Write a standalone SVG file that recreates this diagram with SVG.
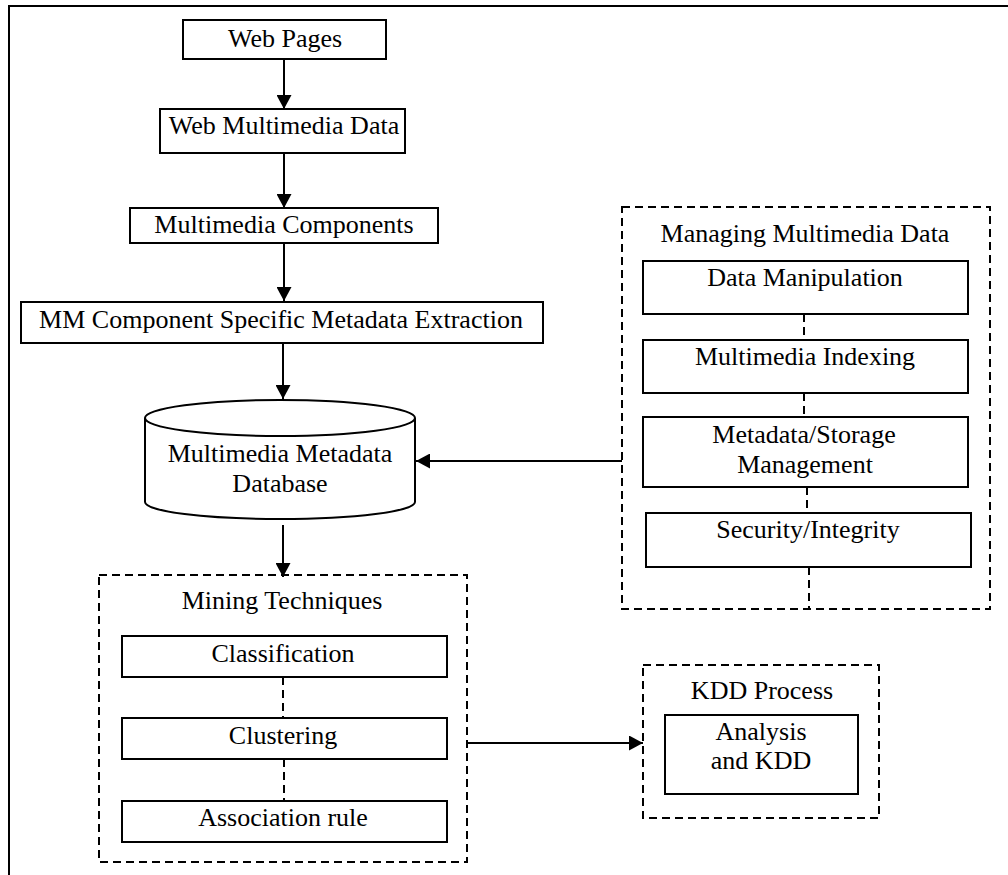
<svg xmlns="http://www.w3.org/2000/svg" width="1008" height="875" viewBox="0 0 1008 875">
<style>
.box{fill:#fff;stroke:#000;stroke-width:2}
.dbox{fill:none;stroke:#000;stroke-width:2;stroke-dasharray:8 5}
.ln{fill:none;stroke:#000;stroke-width:2}
.dl{fill:none;stroke:#000;stroke-width:2;stroke-dasharray:8 5}
text{font-family:"Liberation Serif","Times New Roman",serif;font-size:26px;fill:#000;text-anchor:middle}
</style>
<defs>
<marker id="ah" viewBox="0 0 14 15" refX="14" refY="7.5" markerWidth="14" markerHeight="15" markerUnits="userSpaceOnUse" orient="auto">
<path d="M0,0 L14,7.5 L0,15 Z" fill="#000"/>
</marker>
</defs>
<rect width="1008" height="875" fill="#fff"/>
<g id="frame">
<path class="ln" d="M9,875 V6 H1008"/>
</g>
<g id="connectors">
<line class="ln" x1="284" y1="59" x2="284" y2="109" marker-end="url(#ah)"/>
<line class="ln" x1="284" y1="153" x2="284" y2="208" marker-end="url(#ah)"/>
<line class="ln" x1="284" y1="243" x2="284" y2="301" marker-end="url(#ah)"/>
<line class="ln" x1="283" y1="343" x2="283" y2="399" marker-end="url(#ah)"/>
<line class="ln" x1="622" y1="461" x2="416" y2="461" marker-end="url(#ah)"/>
<line class="ln" x1="283" y1="525" x2="283" y2="577" marker-end="url(#ah)"/>
<line class="ln" x1="467" y1="743" x2="643" y2="743" marker-end="url(#ah)"/>
<line class="dl" x1="283" y1="677" x2="283" y2="718"/>
<line class="dl" x1="284" y1="759" x2="284" y2="801"/>
<line class="dl" x1="804" y1="314" x2="804" y2="340"/>
<line class="dl" x1="804" y1="393" x2="804" y2="417"/>
<line class="dl" x1="807" y1="487" x2="807" y2="513"/>
<line class="dl" x1="809" y1="567" x2="809" y2="609"/>
</g>
<g id="web-pages">
<rect class="box" x="183" y="20" width="203" height="39"/>
<text x="285" y="47">Web Pages</text>
</g>
<g id="web-multimedia-data">
<rect class="box" x="160" y="109" width="245" height="44"/>
<text x="284" y="134">Web Multimedia Data</text>
</g>
<g id="multimedia-components">
<rect class="box" x="130" y="208" width="308" height="35"/>
<text x="284" y="233">Multimedia Components</text>
</g>
<g id="metadata-extraction">
<rect class="box" x="21" y="302" width="522" height="41"/>
<text x="281" y="328">MM Component Specific Metadata Extraction</text>
</g>
<g id="metadata-database">
<path class="box" d="M145,418 V502 A135,17 0 0 0 415,502 V418"/>
<ellipse class="box" cx="280" cy="418" rx="135" ry="18"/>
<text x="280" y="462">Multimedia Metadata</text>
<text x="280" y="492">Database</text>
</g>
<g id="managing-multimedia-data">
<rect class="dbox" x="622" y="207" width="368" height="402"/>
<text x="805" y="242">Managing Multimedia Data</text>
</g>
<g id="data-manipulation">
<rect class="box" x="643" y="261" width="325" height="53"/>
<text x="805" y="286">Data Manipulation</text>
</g>
<g id="multimedia-indexing">
<rect class="box" x="643" y="340" width="325" height="53"/>
<text x="805" y="365">Multimedia Indexing</text>
</g>
<g id="storage-management">
<rect class="box" x="643" y="417" width="325" height="70"/>
<text x="804" y="443">Metadata/Storage</text>
<text x="805" y="473">Management</text>
</g>
<g id="security-integrity">
<rect class="box" x="646" y="513" width="325" height="54"/>
<text x="808" y="538">Security/Integrity</text>
</g>
<g id="mining-techniques">
<rect class="dbox" x="99" y="575" width="368" height="287"/>
<text x="282" y="609">Mining Techniques</text>
</g>
<g id="classification">
<rect class="box" x="122" y="636" width="325" height="41"/>
<text x="283" y="662">Classification</text>
</g>
<g id="clustering">
<rect class="box" x="122" y="718" width="325" height="41"/>
<text x="283" y="744">Clustering</text>
</g>
<g id="association-rule">
<rect class="box" x="122" y="801" width="325" height="41"/>
<text x="283" y="826">Association rule</text>
</g>
<g id="kdd-process">
<rect class="dbox" x="643" y="665" width="236" height="153"/>
<text x="762" y="699">KDD Process</text>
</g>
<g id="analysis-kdd">
<rect class="box" x="665" y="715" width="193" height="79"/>
<text x="761" y="740">Analysis</text>
<text x="761" y="769">and KDD</text>
</g>
</svg>
